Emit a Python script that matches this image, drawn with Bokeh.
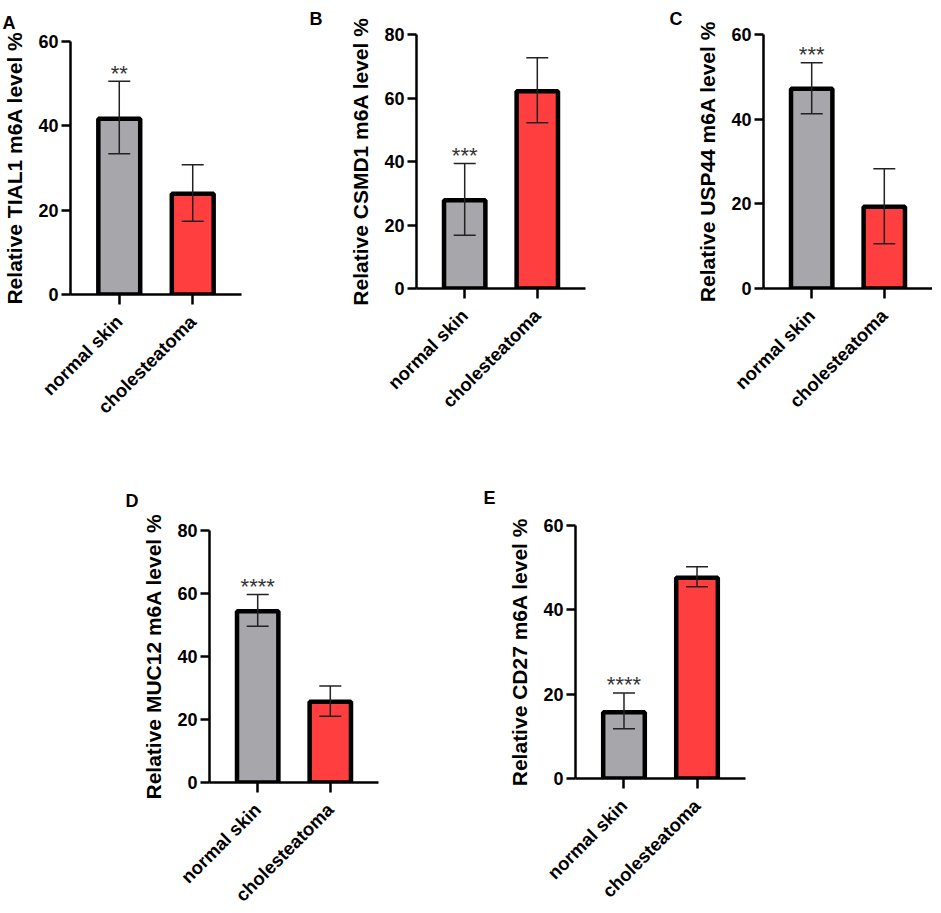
import math
from bokeh.plotting import figure
from bokeh.models import ColumnDataSource, Whisker, TeeHead, FactorRange, FixedTicker
from bokeh.layouts import column, row
from bokeh.embed import file_html
from bokeh.resources import INLINE

FONT = "Liberation Sans"

categories = ["normal skin", "cholesteatoma"]
bar_colors = ["#a7a6ab", "#ff3f3f"]

letters = ["A", "B", "C", "D", "E"]
genes = ["TIAL1", "CSMD1", "USP44", "MUC12", "CD27"]
y_max = [60, 80, 60, 80, 60]
stars = ["**", "***", "***", "****", "****"]

mean_A = [41.7, 23.9]
upper_A = [50.6, 30.8]
lower_A = [33.4, 17.4]

mean_B = [27.8, 62.1]
upper_B = [39.4, 72.7]
lower_B = [16.8, 52.2]

mean_C = [47.2, 19.3]
upper_C = [53.3, 28.3]
lower_C = [41.3, 10.6]

mean_D = [54.4, 25.6]
upper_D = [59.7, 30.6]
lower_D = [49.6, 21.0]

mean_E = [15.7, 47.6]
upper_E = [20.3, 50.2]
lower_E = [11.8, 45.5]

means = [mean_A, mean_B, mean_C, mean_D, mean_E]
uppers = [upper_A, upper_B, upper_C, upper_D, upper_E]
lowers = [lower_A, lower_B, lower_C, lower_D, lower_E]


def make_panel(i, bl, bt, br, bb, fw, fh, letter_dx, letter_standoff):
    src = ColumnDataSource(dict(cat=categories, mean=means[i], upper=uppers[i],
                                lower=lowers[i], color=bar_colors))
    p = figure(x_range=FactorRange(factors=categories, range_padding=0.164,
                                   range_padding_units="absolute"),
               y_range=(0, y_max[i]),
               frame_width=fw, frame_height=fh,
               min_border_left=bl, min_border_right=br,
               min_border_top=bt, min_border_bottom=bb,
               output_backend="svg", toolbar_location=None,
               background_fill_color="white", border_fill_color="white")
    p.outline_line_color = None
    p.grid.visible = False

    p.vbar(x="cat", top="mean", width=0.57, source=src, fill_color="color",
           line_color="black", line_width=4.5)

    w = Whisker(source=src, base="cat", upper="upper", lower="lower",
                line_color="#222222", line_width=1.5, level="overlay",
                upper_head=TeeHead(size=22, line_color="#222222", line_width=1.5),
                lower_head=TeeHead(size=22, line_color="#222222", line_width=1.5))
    p.add_layout(w)

    p.text(x=[categories[0]], y=[uppers[i][0]], text=[stars[i]],
           text_align="center", text_baseline="alphabetic", y_offset=-8,
           text_font_size="22px", text_color="#333333")

    # y axis
    ya = p.yaxis[0]
    ya.ticker = FixedTicker(ticks=list(range(0, y_max[i] + 1, 20)))
    ya.axis_label = f"Relative {genes[i]} m6A level %"
    ya.axis_label_text_font = FONT
    ya.axis_label_text_font_style = "bold"
    ya.axis_label_text_font_size = "21px"
    ya.axis_label_text_color = "black"
    ya.axis_label_standoff = 9
    ya.major_label_text_font = FONT
    ya.major_label_text_font_style = "bold"
    ya.major_label_text_font_size = "18px"
    ya.major_label_text_color = "black"
    ya.major_label_standoff = 3
    ya.axis_line_width = 2.5
    ya.major_tick_line_width = 2.5
    ya.major_tick_out = 9
    ya.major_tick_in = 0
    ya.minor_tick_out = 0
    ya.minor_tick_in = 0

    # x axis
    xa = p.xaxis[0]
    xa.major_label_orientation = math.pi / 4
    xa.major_label_text_font = FONT
    xa.major_label_text_font_style = "bold"
    xa.major_label_text_font_size = "18.5px"
    xa.major_label_text_color = "black"
    xa.major_label_standoff = 14
    xa.axis_line_width = 2.5
    xa.major_tick_line_width = 2.5
    xa.major_tick_out = 10
    xa.major_tick_in = 0

    # panel letter
    p.title.text = letters[i]
    p.title.text_font = FONT
    p.title.text_font_style = "bold"
    p.title.text_font_size = "18px"
    p.title.text_color = "black"
    p.title.align = "left"
    p.title.offset = letter_dx
    p.title.standoff = letter_standoff
    return p


pA = make_panel(0, 63, 41, 68, 163, 171, 253, -68, 18)
pB = make_panel(1, 107, 34, 34, 169, 169, 254, -107, 11)
pC = make_panel(2, 144, 34, 0, 169, 169, 254, -94, 11)
pD = make_panel(3, 209, 73, 92, 122, 169, 252, -84, 40)
pE = make_panel(4, 105, 68, 20, 126, 170, 253, -92, 35)

top = row(column(pA), column(pB), column(pC))
bottom = row(column(pD), column(pE))
layout = column(top, bottom)

open("out.html", "w").write(file_html(layout, INLINE))
